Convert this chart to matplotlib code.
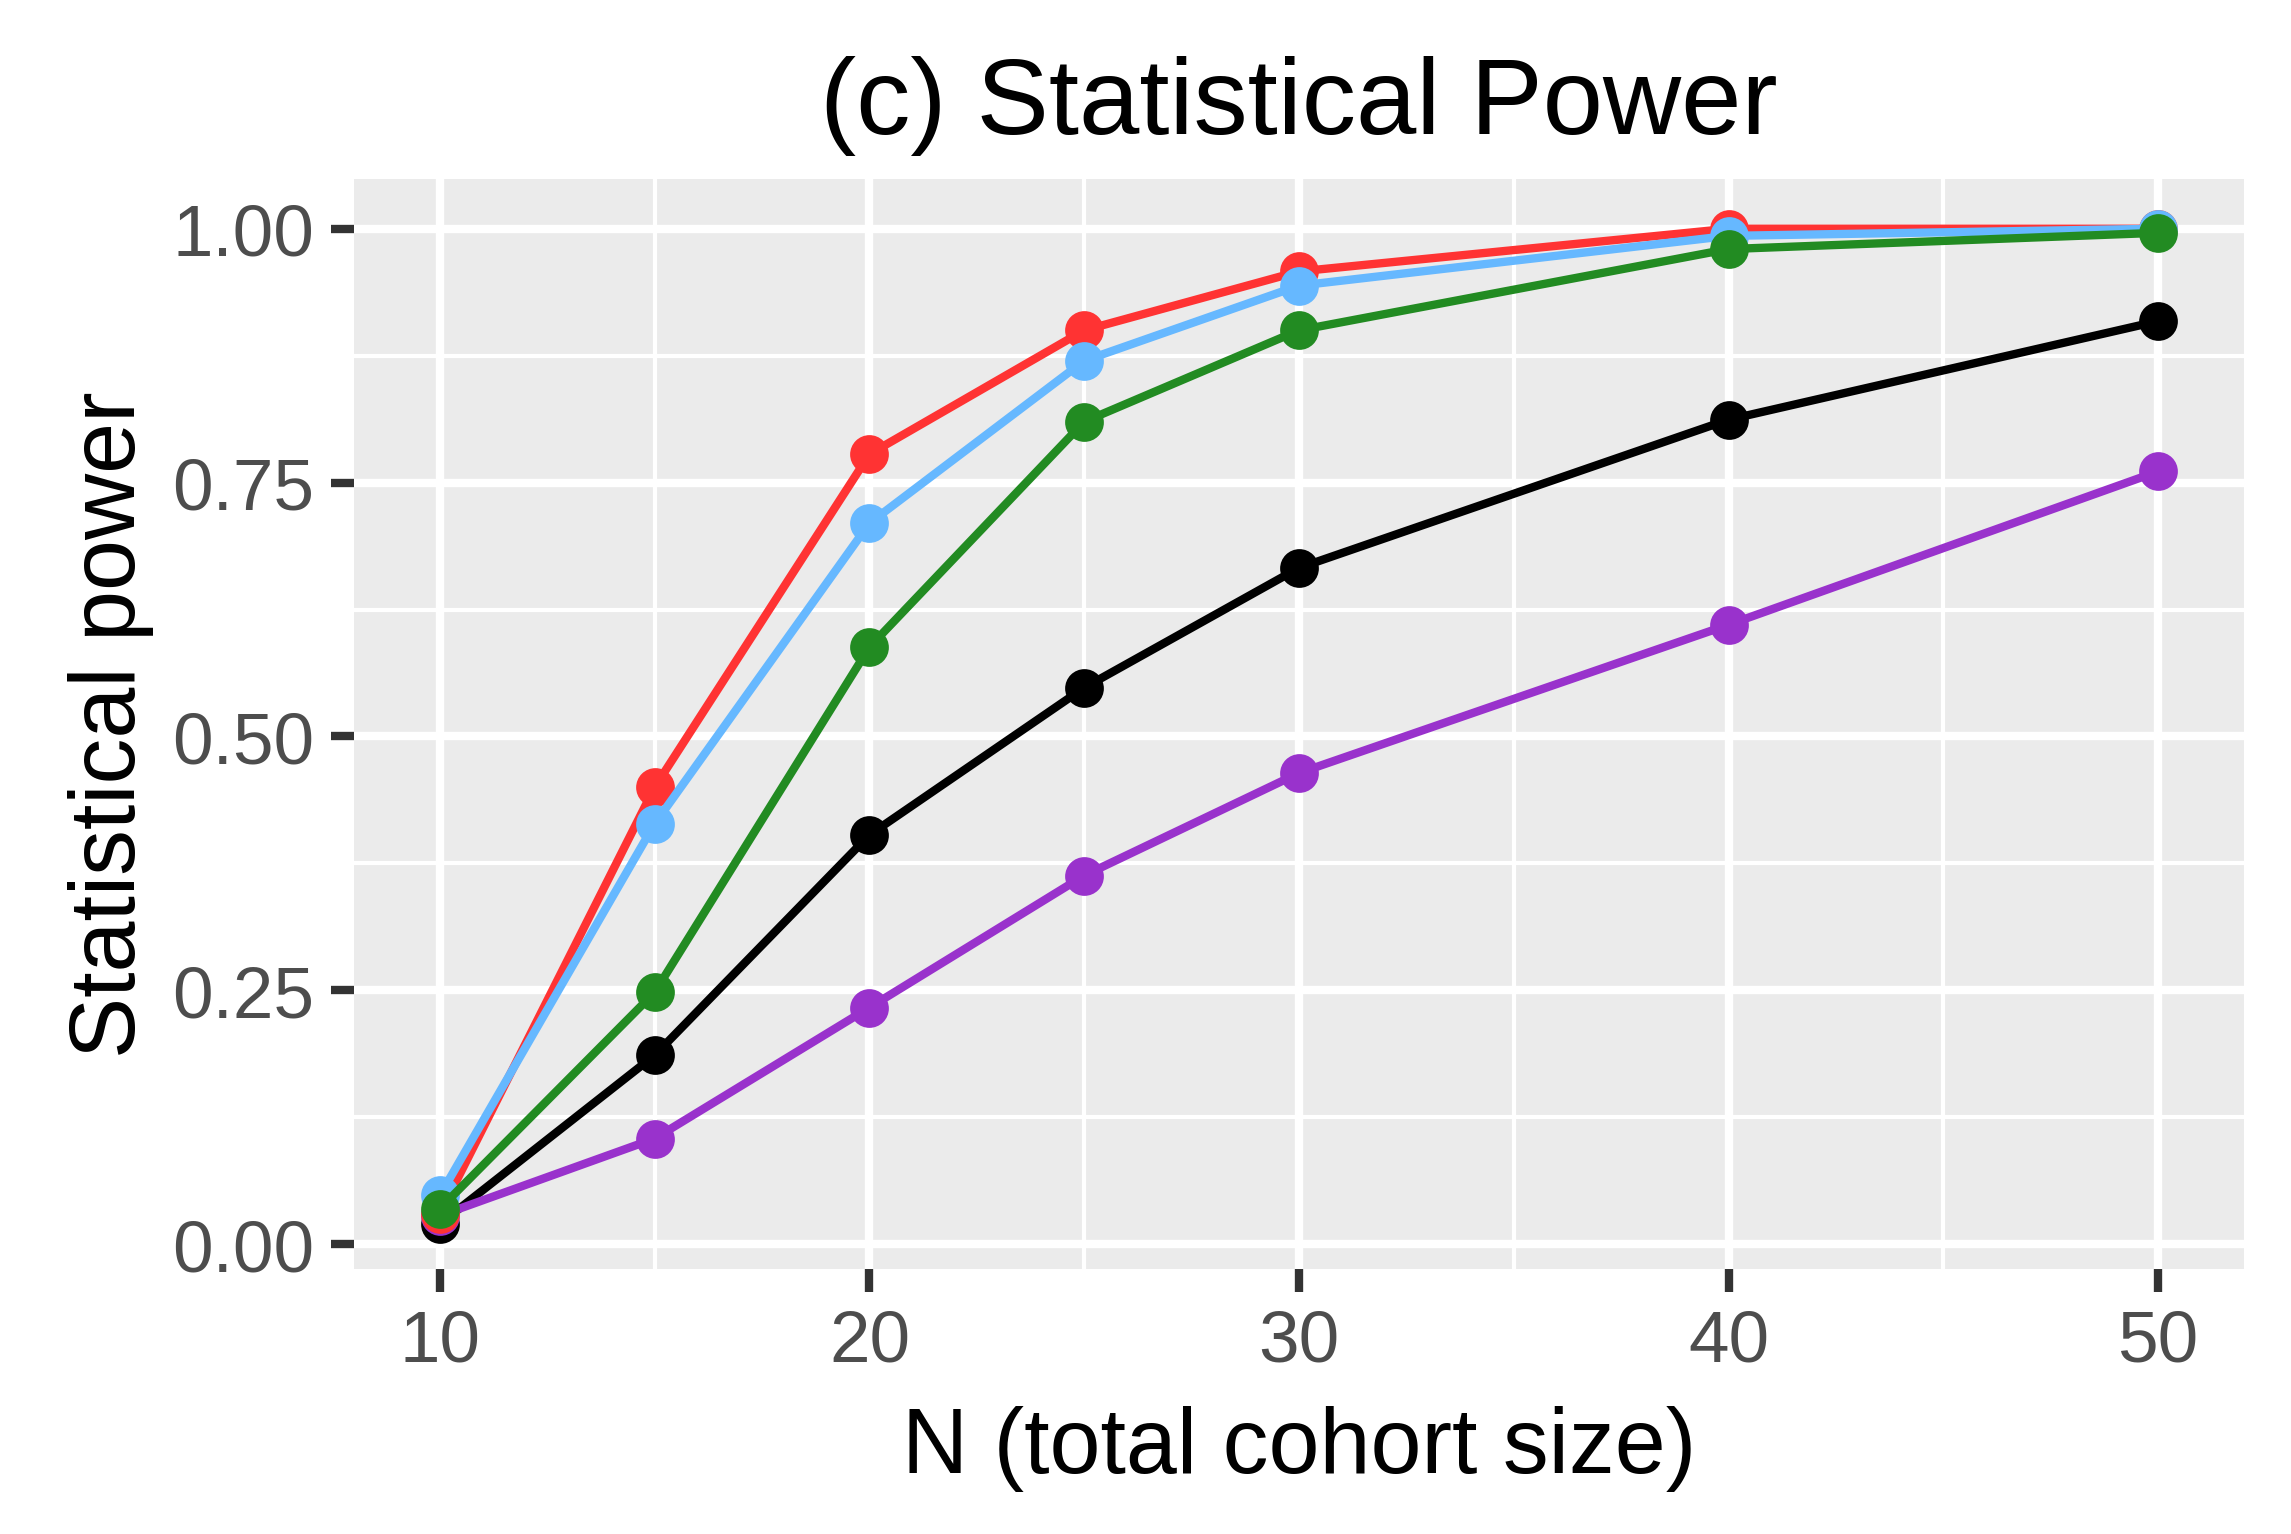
import numpy as np
import matplotlib
matplotlib.use("Agg")
from matplotlib import pyplot as plt

plt.rcParams['font.family'] = ['Liberation Sans', 'DejaVu Sans']

n_total = [10, 15, 20, 25, 30, 40, 50]
power_red = [0.030, 0.450, 0.778, 0.900, 0.958, 1.000, 1.000]
power_blue = [0.048, 0.414, 0.710, 0.870, 0.944, 0.993, 1.000]
power_green = [0.035, 0.248, 0.588, 0.810, 0.900, 0.980, 0.996]
power_black = [0.020, 0.186, 0.403, 0.548, 0.666, 0.812, 0.909]
power_purple = [0.028, 0.104, 0.233, 0.363, 0.464, 0.610, 0.761]

series = [
    (power_black, "#000000"),
    (power_purple, "#9932CC"),
    (power_red, "#FF3333"),
    (power_blue, "#66B8FF"),
    (power_green, "#228B22"),
]

W, H = 2291, 1535
fig = plt.figure(figsize=(W / 300, H / 300), dpi=300)
left, right, top, bottom = 354, 2244, 180, 1270
ax = fig.add_axes([left / W, 1 - bottom / H, (right - left) / W, (bottom - top) / H])
ax.set_facecolor("#EBEBEB")

# minor + major grid like ggplot theme_grey
for x in [15, 25, 35, 45]:
    ax.axvline(x, color="white", lw=1.0, zorder=0)
for y in [0.125, 0.375, 0.625, 0.875]:
    ax.axhline(y, color="white", lw=1.0, zorder=0)
for x in [10, 20, 30, 40, 50]:
    ax.axvline(x, color="white", lw=2.0, zorder=0)
for y in [0, 0.25, 0.5, 0.75, 1.0]:
    ax.axhline(y, color="white", lw=2.0, zorder=0)

for vals, col in series:
    ax.plot(n_total, vals, color=col, lw=2.0, marker="o", markersize=9.3,
            markeredgewidth=0, zorder=3)

ax.set_xlim(8, 52)
ax.set_ylim(-0.0245, 1.049)
ax.set_xticks([10, 20, 30, 40, 50])
ax.set_yticks([0, 0.25, 0.5, 0.75, 1.0])
ax.set_yticklabels(["0.00", "0.25", "0.50", "0.75", "1.00"])
for s in ax.spines.values():
    s.set_visible(False)
ax.tick_params(axis="both", length=5.5, width=2.0, color="#333333",
               labelcolor="#4D4D4D", labelsize=17.5, pad=4)

ax.set_xlabel("N (total cohort size)", fontsize=22, labelpad=7)
ax.set_ylabel("Statistical power", fontsize=22, labelpad=4.5)
ax.set_title("(c) Statistical Power", fontsize=26, pad=11)

fig.savefig("out.png", dpi=300)
